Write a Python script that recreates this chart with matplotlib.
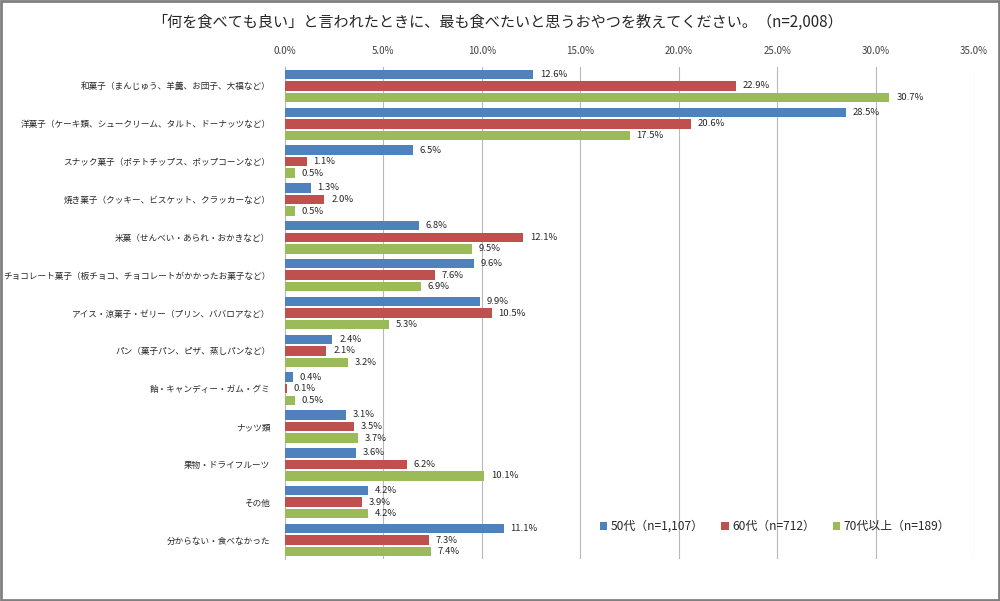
import matplotlib
matplotlib.use("Agg")
import matplotlib.pyplot as plt
from matplotlib.patches import Rectangle
import numpy as np

plt.rcParams['font.family'] = ['Noto Sans CJK JP', 'DejaVu Sans']

title = "「何を食べても良い」と言われたときに、最も食べたいと思うおやつを教えてください。（n=2,008）"
categories = [
    "和菓子（まんじゅう、羊羹、お団子、大福など）",
    "洋菓子（ケーキ類、シュークリーム、タルト、ドーナッツなど）",
    "スナック菓子（ポテトチップス、ポップコーンなど）",
    "焼き菓子（クッキー、ビスケット、クラッカーなど）",
    "米菓（せんべい・あられ・おかきなど）",
    "チョコレート菓子（板チョコ、チョコレートがかかったお菓子など）",
    "アイス・涼菓子・ゼリー（プリン、ババロアなど）",
    "パン（菓子パン、ピザ、蒸しパンなど）",
    "飴・キャンディー・ガム・グミ",
    "ナッツ類",
    "果物・ドライフルーツ",
    "その他",
    "分からない・食べなかった",
]
series_names = ["50代（n=1,107）", "60代（n=712）", "70代以上（n=189）"]
s50 = [12.6, 28.5, 6.5, 1.3, 6.8, 9.6, 9.9, 2.4, 0.4, 3.1, 3.6, 4.2, 11.1]
s60 = [22.9, 20.6, 1.1, 2.0, 12.1, 7.6, 10.5, 2.1, 0.1, 3.5, 6.2, 3.9, 7.3]
s70 = [30.7, 17.5, 0.5, 0.5, 9.5, 6.9, 5.3, 3.2, 0.5, 3.7, 10.1, 4.2, 7.4]
xticks = [0, 5, 10, 15, 20, 25, 30, 35]

colors = ["#4F81BD", "#C0504D", "#9BBB59"]

fig = plt.figure(figsize=(10, 6.01), dpi=100)
ax = fig.add_axes([0.285, 0.0699, 0.689, 0.8186])

y = np.arange(len(categories))
offs = [-0.305, 0.0, 0.305]
h = 0.25
for vals, off, c, name in zip([s50, s60, s70], offs, colors, series_names):
    bars = ax.barh(y + off, vals, height=h, color=c, label=name, zorder=3)
    for b, v in zip(bars, vals):
        ax.text(v + 0.35, b.get_y() + b.get_height() / 2, f"{v:.1f}%",
                va="center", ha="left", fontsize=6.8, color="#262626", zorder=4)

ax.set_xlim(0, 35)
ax.set_ylim(len(categories) - 0.5, -0.5)
ax.set_xticks(xticks)
ax.set_xticklabels([f"{t:.1f}%" for t in xticks])
ax.xaxis.tick_top()
ax.tick_params(axis="x", length=0, pad=8, labelsize=7, labelcolor="#404040")
ax.set_yticks(y)
ax.set_yticklabels(categories)
ax.tick_params(axis="y", length=0, pad=10.5, labelsize=6.2, labelcolor="#262626")
ax.grid(axis="x", color="#B8B8B8", linewidth=0.8, zorder=0)
for s in ["top", "right", "bottom"]:
    ax.spines[s].set_visible(False)
ax.spines["left"].set_color("#B8B8B8")
ax.spines["left"].set_linewidth(0.8)

fig.text(0.497, 0.962, title, ha="center", va="center", fontsize=10.9, color="#262626")

handles, labels = ax.get_legend_handles_labels()
leg = fig.legend(handles, labels, loc="center", bbox_to_anchor=(0.775, 0.124), ncol=3,
                 frameon=False, fontsize=8.6, handlelength=0.6, handleheight=0.6,
                 handletextpad=0.3, columnspacing=1.5)
for t in leg.get_texts():
    t.set_color("#262626")

fig.patches.append(Rectangle((0.001, 0.001), 0.998, 0.997, transform=fig.transFigure,
                             fill=False, edgecolor="#808080", linewidth=2))

fig.savefig("out.png", dpi=100, facecolor="white")
